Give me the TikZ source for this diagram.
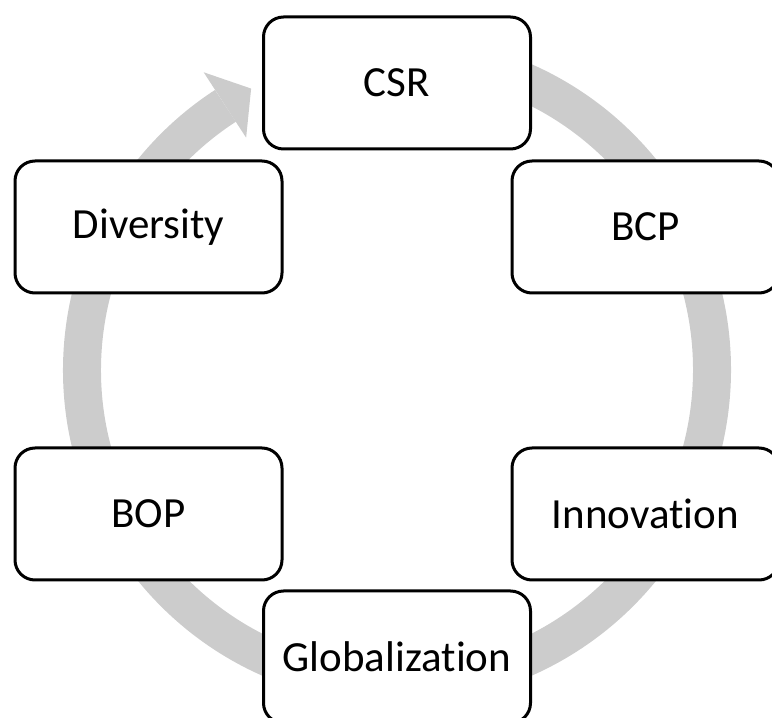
\documentclass[tikz,border=0pt]{standalone}
\usepackage{fontspec}
\setmainfont{Carlito}[Ligatures={NoCommon}]
\usetikzlibrary{calc}
\definecolor{ringgray}{RGB}{204,204,204}
\tikzset{
  cyclebox/.style={draw=black, line width=3pt, fill=white, rounded corners=20pt,
    minimum width=267pt, minimum height=132pt, inner sep=0pt,
    font=\fontsize{43}{50}\selectfont},
  ringline/.style={draw=ringgray, line width=38pt},
}
\begin{document}
\begin{tikzpicture}[x=1pt,y=1pt]
\useasboundingbox (0,0) rectangle (772,718);
\coordinate (c) at (397,348);
% ring arrow
\draw[ringline] ($(c)+(85:315)$) arc[start angle=85, end angle=-237, radius=315];
\fill[ringgray] ($(c)+(123:355)$) -- ($(c)+(117.4:317)$) -- ($(c)+(123:277)$) -- cycle;
% boxes
\node[cyclebox] (csr) at (397,635) {CSR};
\node[cyclebox] (bcp) at (645.5,491) {BCP};
\node[cyclebox] (inn) at (645.5,204) {Innovation};
\node[cyclebox] (glo) at (397,61) {Globalization};
\node[cyclebox] (bop) at (148.5,204) {BOP};
\node[cyclebox] (div) at (148.5,491) {Diversity};
\end{tikzpicture}
\end{document}
